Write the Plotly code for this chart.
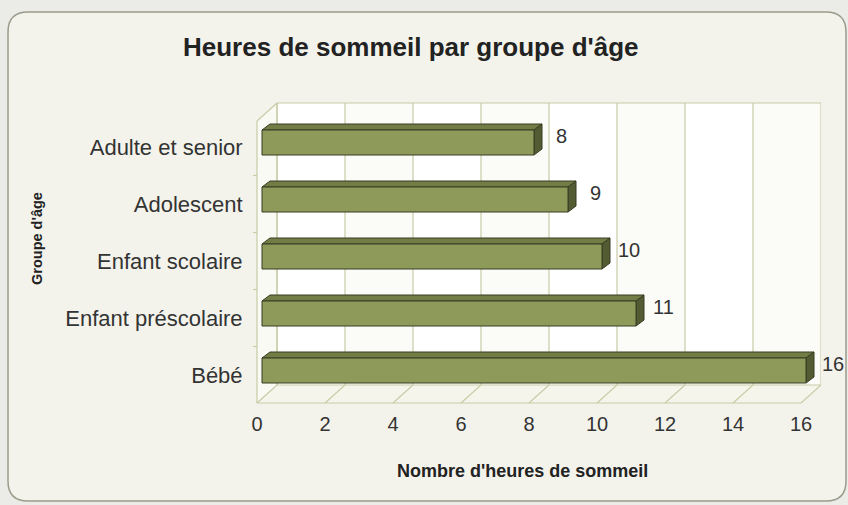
import plotly.graph_objects as go

# ---------------- data ----------------
categories = ["Bébé", "Enfant préscolaire", "Enfant scolaire", "Adolescent", "Adulte et senior"]
hours = [16, 11, 10, 9, 8]
x_tick_values = [0, 2, 4, 6, 8, 10, 12, 14, 16]
title_text = "Heures de sommeil par groupe d'âge"
x_title = "Nombre d'heures de sommeil"
y_title = "Groupe d'âge"

# ---------------- geometry (pixels) ----------------
W, H = 848, 505
L, R, T, B = 250, 27, 102, 100
XS, YS = 34.0, 57.0            # pixels per data unit
ZERO_PX = 257                  # pixel column of x = 0
CAT0_PX = 375                  # pixel row of first category
FLOOR_FRONT_PX = 403

pw, ph = W - L - R, H - T - B
x_lo = -(ZERO_PX - L) / XS
x_hi = x_lo + pw / XS
y_lo = -((H - B) - CAT0_PX) / YS
y_hi = y_lo + ph / YS

DX, DY = 20 / XS, 18 / YS      # box depth
ff = -(FLOOR_FRONT_PX - CAT0_PX) / YS
fb = ff + DY
tb = (CAT0_PX - 103) / YS
tf = tb - DY
xmax = max(x_tick_values)
TICK = 4 / XS

BX = 5 / XS                    # bar front offset
BY = 4.5 / YS
BH = 25 / YS
DBX, DBY = 8 / XS, 6 / YS      # bar depth
LBL_DX, LBL_DY = 27 / XS, 11 / YS

GRID = "#C9CCA6"
FACE = "#8D9A5A"
TOPC = "#727D46"
SIDE = "#535B33"
EDGE = "#383D24"
FONT = "Liberation Sans, Arial, sans-serif"


def px2x(px):
    return (px - L) / pw


def py2y(py):
    return (H - B - py) / ph


def data2paper_x(v):
    return (v - x_lo) / (x_hi - x_lo)


shapes = []

# outer rounded panel (paper coordinates)
px0, py0, px1, py1, rad = 8, 12, 846, 501, 20
rx, ry = rad / pw, rad / ph
X0, X1, Y0, Y1 = px2x(px0), px2x(px1), py2y(py1), py2y(py0)
panel = (f"M {X0+rx},{Y1} L {X1-rx},{Y1} Q {X1},{Y1} {X1},{Y1-ry} "
         f"L {X1},{Y0+ry} Q {X1},{Y0} {X1-rx},{Y0} L {X0+rx},{Y0} "
         f"Q {X0},{Y0} {X0},{Y0+ry} L {X0},{Y1-ry} Q {X0},{Y1} {X0+rx},{Y1} Z")
shapes.append(dict(type="path", xref="paper", yref="paper", path=panel,
                   fillcolor="#F3F3EC", line=dict(color="#9A9C8B", width=1.5), layer="below"))

# back wall bands
for k in range(len(x_tick_values) - 1):
    a, b = x_tick_values[k], x_tick_values[k + 1]
    shapes.append(dict(type="rect", xref="x", yref="y", x0=a + DX, x1=b + DX, y0=fb, y1=tb,
                       fillcolor="#FFFFFF" if k % 2 == 0 else "#FBFBF7", line=dict(width=0), layer="below"))
# left wall
shapes.append(dict(type="path", xref="x", yref="y",
                   path=f"M 0,{ff} L 0,{tf} L {DX},{tb} L {DX},{fb} Z",
                   fillcolor="#FAFAF5", line=dict(width=0), layer="below"))
# floor
shapes.append(dict(type="path", xref="x", yref="y",
                   path=f"M 0,{ff} L {xmax},{ff} L {xmax+DX},{fb} L {DX},{fb} Z",
                   fillcolor="#F5F5EC", line=dict(width=0), layer="below"))
# gridlines and floor diagonals
for v in x_tick_values:
    shapes.append(dict(type="line", xref="x", yref="y", x0=v + DX, x1=v + DX, y0=fb, y1=tb,
                       line=dict(color=GRID, width=1.2), layer="below"))
    shapes.append(dict(type="line", xref="x", yref="y", x0=v, x1=v + DX, y0=ff, y1=fb,
                       line=dict(color=GRID, width=1.2), layer="below"))
edges = [(0, ff, xmax, ff), (DX, fb, xmax + DX, fb), (0, ff, 0, tf), (0, tf, DX, tb),
         (DX, tb, xmax + DX, tb), (DX, fb, DX, tb)]
for (a, b, c, d) in edges:
    shapes.append(dict(type="line", xref="x", yref="y", x0=a, y0=b, x1=c, y1=d,
                       line=dict(color=GRID, width=1.2), layer="below"))
# small category boundary ticks on the left axis
for i in range(len(categories) - 1):
    shapes.append(dict(type="line", xref="x", yref="y", x0=-TICK, x1=0, y0=i + 0.5, y1=i + 0.5,
                       line=dict(color=GRID, width=1.2), layer="below"))

# bar top and side faces
for i, v in enumerate(hours):
    yt = i + BY + BH / 2
    yb = i + BY - BH / 2
    xe = BX + v
    shapes.append(dict(type="path", xref="x", yref="y",
                       path=f"M {BX},{yt} L {xe},{yt} L {xe+DBX},{yt+DBY} L {BX+DBX},{yt+DBY} Z",
                       fillcolor=TOPC, line=dict(color=EDGE, width=1), layer="below"))
    shapes.append(dict(type="path", xref="x", yref="y",
                       path=f"M {xe},{yb} L {xe},{yt} L {xe+DBX},{yt+DBY} L {xe+DBX},{yb+DBY} Z",
                       fillcolor=SIDE, line=dict(color=EDGE, width=1), layer="below"))

fig = go.Figure()
fig.add_trace(go.Bar(
    orientation="h",
    y=[i + BY for i in range(len(categories))],
    x=hours,
    base=BX,
    width=BH,
    marker=dict(color=FACE, line=dict(color=EDGE, width=1)),
    hoverinfo="skip",
))

annotations = [
    dict(text=f"<b>{title_text}</b>", xref="paper", yref="paper", x=px2x(411), y=py2y(47),
         xanchor="center", yanchor="middle", showarrow=False,
         font=dict(family=FONT, size=26, color="#222222")),
    dict(text=f"<b>{x_title}</b>", xref="paper", yref="paper", x=px2x(522), y=py2y(471),
         xanchor="center", yanchor="middle", showarrow=False,
         font=dict(family=FONT, size=18, color="#222222")),
    dict(text=f"<b>{y_title}</b>", xref="paper", yref="paper", x=px2x(37), y=py2y(239),
         xanchor="center", yanchor="middle", showarrow=False, textangle=-90,
         font=dict(family=FONT, size=14.5, color="#222222")),
]
# value labels
for i, v in enumerate(hours):
    annotations.append(dict(text=str(v), xref="paper", yref="y",
                            x=data2paper_x(BX + v + LBL_DX), y=i + LBL_DY,
                            xanchor="center", yanchor="middle", showarrow=False,
                            font=dict(family=FONT, size=20, color="#333333")))

fig.update_layout(
    width=W, height=H,
    margin=dict(l=L, r=R, t=T, b=B, pad=0),
    paper_bgcolor="#EBEBE7",
    plot_bgcolor="rgba(0,0,0,0)",
    showlegend=False,
    hovermode=False,
    shapes=shapes,
    annotations=annotations,
    xaxis=dict(range=[x_lo, x_hi], tickvals=x_tick_values, ticktext=[str(v) for v in x_tick_values],
               showgrid=False, zeroline=False, showline=False,
               ticks="outside", ticklen=1, tickcolor="rgba(0,0,0,0)",
               tickfont=dict(family=FONT, size=20, color="#333333"),
               fixedrange=True),
    yaxis=dict(range=[y_lo, y_hi], tickvals=list(range(len(categories))), ticktext=categories,
               showgrid=False, zeroline=False, showline=False,
               ticks="outside", ticklen=2, tickcolor="rgba(0,0,0,0)",
               tickfont=dict(family=FONT, size=22, color="#333333"),
               fixedrange=True),
)

fig.write_html("out.html", config={"displayModeBar": False},
               post_script="document.body.style.margin='0';document.body.style.background='#EBEBE7';")
